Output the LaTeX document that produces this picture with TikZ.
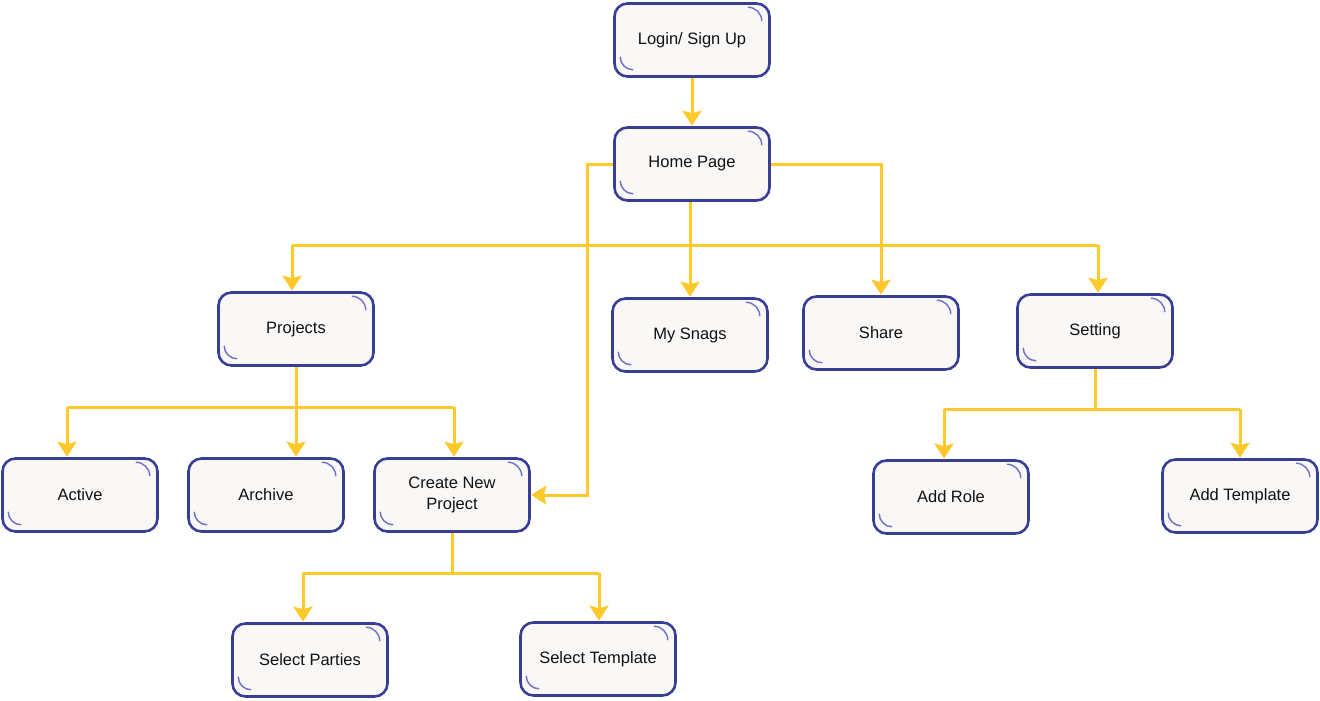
\documentclass[tikz,border=0pt]{standalone}
\usepackage{fontspec}
\setmainfont{Liberation Sans}
\usetikzlibrary{arrows.meta}
\definecolor{bordc}{HTML}{383E96}
\definecolor{fillc}{HTML}{F9F8F6}
\definecolor{yelc}{HTML}{FFC92B}
\definecolor{arcc}{HTML}{6C70C8}
\definecolor{txtc}{HTML}{111111}
\tikzset{
  card/.style={draw=bordc, fill=fillc, line width=2.6pt, rounded corners=13pt,
    minimum width=155pt, minimum height=73pt, align=center, text=txtc,
    font=\fontsize{16.5pt}{21pt}\selectfont, inner sep=0pt},
  deco/.style={draw=arcc, line width=1.4pt},
  wire/.style={draw=yelc, line width=3pt},
  conn/.style={wire, -{Stealth[length=15pt,width=19pt,inset=2.5pt]}, shorten >=0.5pt}
}
\newcommand{\cardnode}[4]{%
  \node[card] (#1) at (#2,#3) {#4};
  \draw[deco] ([xshift=-23pt,yshift=-5pt]#1.north east) arc[start angle=90,end angle=0,radius=14pt];
  \draw[deco] ([xshift=7pt,yshift=21pt]#1.south west) arc[start angle=180,end angle=270,radius=13pt];
}
\begin{document}
\begin{tikzpicture}[x=1pt,y=-1pt]
\useasboundingbox (0,0) rectangle (1320,701);
\coordinate (busL) at (292,245);
\coordinate (busR) at (1098,245);
\coordinate (pL) at (67,407);
\coordinate (pR) at (454,407);
\coordinate (cL) at (303,573);
\coordinate (cR) at (599,573);
\coordinate (sL) at (944,409);
\coordinate (sR) at (1240,409);
\coordinate (hL) at (587,164);

\cardnode{login}{692}{40}{Login/ Sign Up}
\cardnode{home}{692}{164}{Home Page}
\cardnode{projects}{296}{329}{Projects}
\cardnode{snags}{690}{335}{My Snags}
\cardnode{share}{881}{333}{Share}
\cardnode{setting}{1095}{331}{Setting}
\cardnode{active}{80}{495}{Active}
\cardnode{archive}{266}{495}{Archive}
\cardnode{create}{452}{495}{Create New\\Project}
\cardnode{addrole}{951}{497}{Add Role}
\cardnode{addtemp}{1240}{496}{Add Template}
\cardnode{parties}{310}{660}{Select Parties}
\cardnode{seltemp}{598}{659}{Select Template}

\draw[conn] (login) -- (home);
\draw[conn] (home.east) -| (share.north);
\draw[conn] (home.west) -- (hL) |- (create.east);
\draw[conn] (snags.north |- home.south) -- (snags.north);
\draw[wire] (busL) -- (busR);
\draw[conn] (busL) -- (busL |- projects.north);
\draw[conn] (busR) -- (busR |- setting.north);

\draw[wire] (projects.south) -- (projects.south |- pL);
\draw[wire] (pL) -- (pR);
\draw[conn] (pL) -- (pL |- active.north);
\draw[conn] (projects.south |- pL) -- (projects.south |- archive.north);
\draw[conn] (pR) -- (pR |- create.north);

\draw[wire] (create.south) -- (create.south |- cL);
\draw[wire] (cL) -- (cR);
\draw[conn] (cL) -- (cL |- parties.north);
\draw[conn] (cR) -- (cR |- seltemp.north);

\draw[wire] (setting.south) -- (setting.south |- sL);
\draw[wire] (sL) -- (sR);
\draw[conn] (sL) -- (sL |- addrole.north);
\draw[conn] (sR) -- (sR |- addtemp.north);
\end{tikzpicture}
\end{document}
